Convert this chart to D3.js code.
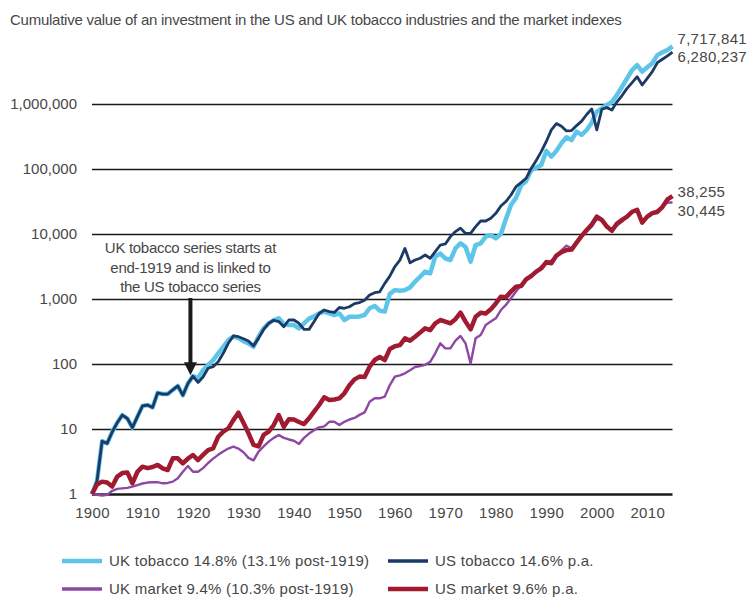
<!DOCTYPE html>
<html>
<head>
<meta charset="utf-8">
<script src="https://cdn.jsdelivr.net/npm/d3@7"></script>
<style>
  body { margin: 0; background: #fff; }
  svg text { font-family: "Liberation Sans", Arial, Helvetica, sans-serif; fill: #474747; }
</style>
</head>
<body>
<div id="chart"></div>
<script>
// years 1900..2015, one value per year-end position
var years = d3.range(1900, 2016);

var usTobacco = [
  1, 1.6, 6.5, 6.0, 9, 12.5, 16.4, 14.5, 10.5, 15.5,                 // 1900s
  22.6, 23.4, 21.5, 36, 34.5, 34.5, 40, 46, 33, 50,                  // 1910s
  65, 52, 63, 86, 91, 108, 146, 208, 270, 263,                       // 1920s
  245, 225, 190, 250, 340, 423, 470, 450, 375, 475,                  // 1930s
  475, 423, 341, 341, 449, 600, 677, 640, 620, 740,                  // 1940s
  720, 760, 850, 880, 960, 1150, 1250, 1290, 1740, 2250,             // 1950s
  3160, 3970, 6000, 3600, 3980, 4230, 4750, 4230, 5350, 6770,        // 1960s
  7020, 9110, 10900, 12300, 10200, 10200, 13000, 15850, 15850, 17500,// 1970s
  20800, 26900, 31600, 39800, 53500, 61600, 71900, 102000, 135000, 185000, // 1980s
  265000, 400000, 500000, 455000, 385000, 390000, 465000, 545000, 690000, 840000, // 1990s
  400000, 830000, 880000, 810000, 1080000, 1350000, 1740000, 2130000, 2630000, 1960000, // 2000s
  2480000, 3150000, 4320000, 4880000, 5490000, 6280237               // 2010-2015
];

// UK tobacco linked to the US series up to end-1919
var ukTobacco = [
  1, 1.6, 6.5, 6.0, 9, 12.5, 16.4, 14.5, 10.5, 15.5,
  22.6, 23.4, 21.5, 36, 34.5, 34.5, 40, 46, 33, 50,
  65, 60, 80, 96, 115, 146, 184, 234, 265, 250,
  225, 208, 184, 263, 354, 420, 475, 505, 412, 398,
  398, 354, 420, 500, 540, 600, 640, 600, 567, 600,
  475, 533, 533, 540, 567, 720, 780, 661, 640, 1200,
  1370, 1340, 1370, 1500, 1850, 2200, 2640, 2480, 4500, 5000,
  4200, 3980, 6000, 7200, 6300, 3760, 6770, 7200, 9100, 9600,
  8550, 10000, 17000, 28000, 36000, 56000, 65000, 96000, 105000, 115000,
  190000, 155000, 190000, 250000, 308000, 279000, 375000, 334000, 398000, 516000,
  762000, 855000, 966000, 1080000, 1380000, 1840000, 2480000, 3330000, 3970000, 3150000,
  3670000, 4230000, 5650000, 6240000, 6770000, 7717841
];

var ukMarket = [
  1, 0.97, 0.95, 0.97, 1.12, 1.2, 1.22, 1.24, 1.3, 1.37,
  1.45, 1.5, 1.52, 1.52, 1.46, 1.48, 1.55, 1.75, 2.2, 2.7,
  2.2, 2.2, 2.5, 3.0, 3.5, 4.0, 4.5, 5.0, 5.35, 5.0,
  4.4, 3.6, 3.3, 4.5, 5.4, 6.4, 7.3, 8.1, 7.3, 6.9,
  6.6, 5.9, 7.3, 8.5, 9.6, 10.6, 11.0, 12.9, 12.9, 11.5,
  12.9, 14, 14.8, 16.5, 18, 26.3, 29.7, 29.7, 31.5, 47.5,
  64, 67, 72, 80, 90, 93, 97, 108, 146, 208,
  174, 174, 229, 270, 208, 102, 248, 279, 398, 449,
  505, 677, 810, 1025, 1300, 1640, 2080, 2340, 2640, 3150,
  3500, 3900, 4500, 5600, 6600, 6000, 7200, 9000, 11000, 13000,
  17000, 16000, 13500, 11000, 13500, 15500, 18500, 21500, 22500, 15000,
  18500, 20500, 21000, 27000, 30500, 30445
];

var usMarket = [
  1, 1.4, 1.55, 1.5, 1.3, 1.85, 2.1, 2.15, 1.46, 2.2,
  2.63, 2.5, 2.6, 2.8, 2.48, 2.34, 3.54, 3.54, 2.96, 3.5,
  3.98, 3.33, 4.0, 4.75, 5.04, 7.6, 9.1, 10.2, 13.7, 17.8,
  12.5, 8.6, 5.7, 5.4, 8.1, 9.1, 11.5, 16.4, 10.8, 14.1,
  14, 12.8, 11.9, 14.6, 18.5, 23.4, 30.7, 28, 28.5, 29.6,
  35.4, 47, 58, 64, 63, 91, 115, 128, 115, 170,
  188, 195, 248, 229, 263, 304, 354, 333, 423, 475,
  449, 423, 489, 616, 449, 341, 533, 616, 600, 693,
  855, 1085, 1060, 1300, 1550, 1580, 2000, 2250, 2640, 2960,
  3700, 3550, 4650, 5250, 5650, 5750, 7350, 9350, 11500, 14000,
  18500, 16500, 13000, 11200, 14500, 16500, 18500, 22000, 23500, 15000,
  18500, 21000, 22000, 26000, 34000, 38255
];

var yTicks = [1, 10, 100, 1000, 10000, 100000, 1000000];
var xTicks = d3.range(1900, 2011, 10);

var seriesNames = ["UK tobacco 14.8% (13.1% post-1919)", "US tobacco 14.6% p.a.",
                   "UK market 9.4% (10.3% post-1919)", "US market 9.6% p.a."];
var seriesColors = ["#5ec5ea", "#1c3a66", "#8e48a3", "#a01a30"];
var seriesWidths = [4.5, 2.8, 2.4, 4.5];
var seriesData = [ukTobacco, usTobacco, ukMarket, usMarket];
var endLabelShift = [-8, 5, 8, -4];   // right-hand value labels: small offsets so they don't overlap

var titleText = "Cumulative value of an investment in the US and UK tobacco industries and the market indexes";
var noteLines = ["UK tobacco series starts at", "end-1919 and is linked to", "the US tobacco series"];

var W = 749, H = 598;
var x0 = 92, x1 = 672.5, yBot = 494, decade = 65;

var svg = d3.select("#chart").append("svg")
    .attr("width", W).attr("height", H);

var x = d3.scaleLinear().domain([1900, 2015]).range([x0, x1]);
var y = d3.scaleLog().domain([1, 1e7]).range([yBot, yBot - 7 * decade]);

// title
svg.append("text")
    .attr("x", 10).attr("y", 25)
    .style("font-size", "15px")
    .style("letter-spacing", "-0.25px")
    .text(titleText);

// y gridlines + labels
var yAxis = svg.append("g")
    .attr("transform", "translate(" + x0 + ",0)")
    .call(d3.axisLeft(y).tickValues(yTicks).tickFormat(d3.format(","))
        .tickSizeInner(-(x1 - x0)).tickSizeOuter(0).tickPadding(15));
yAxis.select(".domain").remove();
yAxis.selectAll(".tick line")
    .attr("stroke", "#1a1a1a")
    .attr("stroke-width", function(d) { return d === 1 ? 2.6 : 1.3; });
yAxis.selectAll(".tick text")
    .style("font-size", "15px").style("font-family", null);

// x labels
var xAxis = svg.append("g")
    .attr("transform", "translate(0," + yBot + ")")
    .call(d3.axisBottom(x).tickValues(xTicks).tickFormat(d3.format("d"))
        .tickSize(0).tickPadding(13));
xAxis.select(".domain").remove();
xAxis.selectAll(".tick text")
    .style("font-size", "15px").style("letter-spacing", "0.3px");

// series lines
var line = d3.line()
    .x(function(d, i) { return x(years[i]); })
    .y(function(d) { return y(d); });

svg.append("g").selectAll("path")
    .data(seriesData)
    .enter().append("path")
    .attr("d", line)
    .attr("fill", "none")
    .attr("stroke", function(d, i) { return seriesColors[i]; })
    .attr("stroke-width", function(d, i) { return seriesWidths[i]; })
    .attr("stroke-linejoin", "round");

// end value labels
svg.append("g").selectAll("text")
    .data(seriesData)
    .enter().append("text")
    .attr("x", x1 + 5)
    .attr("y", function(d, i) { return y(d[d.length - 1]) + endLabelShift[i]; })
    .attr("dy", "0.35em")
    .style("font-size", "15px")
    .style("letter-spacing", "0.3px")
    .text(function(d) { return d3.format(",")(d[d.length - 1]); });

// annotation + arrow
var ax = x(1919.5);
var note = svg.append("text")
    .attr("text-anchor", "middle")
    .style("font-size", "15px")
    .style("letter-spacing", "-0.3px");
note.selectAll("tspan")
    .data(noteLines)
    .enter().append("tspan")
    .attr("x", ax)
    .attr("y", function(d, i) { return 253 + i * 19.5; })
    .text(function(d) { return d; });

var tipY = y(usTobacco[20]) - 1;
svg.append("line")
    .attr("x1", ax).attr("x2", ax)
    .attr("y1", 298).attr("y2", tipY - 12)
    .attr("stroke", "#1a1a1a").attr("stroke-width", 4);
svg.append("path")
    .attr("d", "M" + (ax - 6.5) + "," + (tipY - 13) + "L" + (ax + 6.5) + "," + (tipY - 13) + "L" + ax + "," + tipY + "Z")
    .attr("fill", "#1a1a1a");

// legend
var legend = svg.append("g").selectAll("g")
    .data(seriesNames)
    .enter().append("g")
    .attr("transform", function(d, i) {
        return "translate(" + (i % 2 === 0 ? 62 : 388) + "," + (i < 2 ? 561 : 589) + ")";
    });
legend.append("line")
    .attr("x1", 0).attr("x2", 40)
    .attr("stroke", function(d, i) { return seriesColors[i]; })
    .attr("stroke-width", function(d, i) { return Math.max(seriesWidths[i], 3.5); });
legend.append("text")
    .attr("x", 47).attr("dy", "0.35em")
    .style("font-size", "15px")
    .style("letter-spacing", "0.25px")
    .text(function(d) { return d; });
</script>
</body>
</html>
